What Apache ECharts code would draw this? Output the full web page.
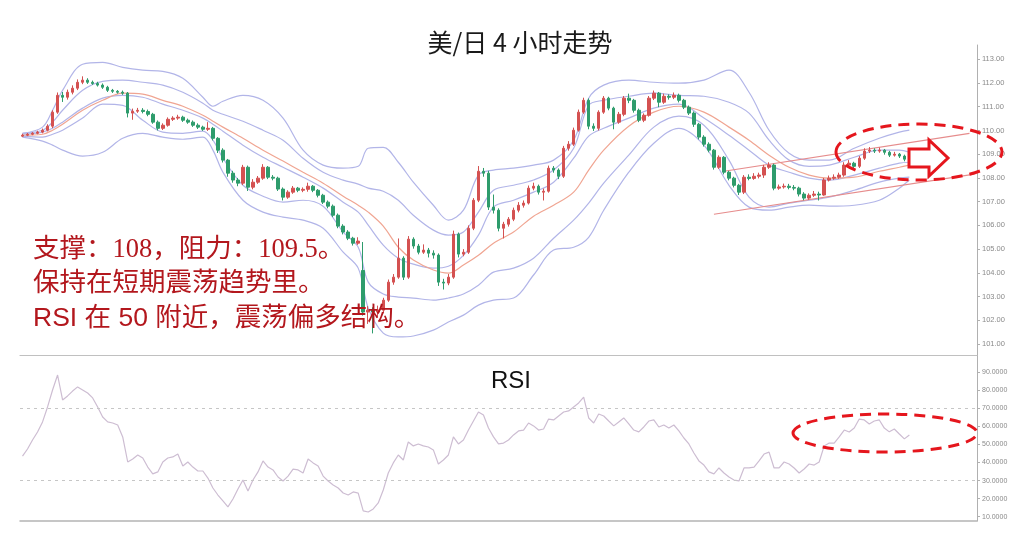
<!DOCTYPE html>
<html>
<head>
<meta charset="utf-8">
<script src="https://cdn.jsdelivr.net/npm/echarts@6/dist/echarts.min.js"></script>
<style>
html,body{margin:0;padding:0;background:#fff;}
#chart{width:1024px;height:535px;}
</style>
</head>
<body>
<div id="chart"></div>
<script>
// ---- data (USD/JPY 4H) ----
const slotCount = 191; // time slots on the x axis (last ones empty)

const opens = [
109.76,109.80,109.84,109.88,109.93,110.01,110.18,110.77,111.48,111.40,
111.61,111.78,112.03,112.12,112.03,111.98,111.91,111.82,111.69,111.65,
111.61,111.57,110.73,110.81,110.85,110.80,110.68,110.35,110.09,110.22,
110.47,110.52,110.56,110.43,110.35,110.22,110.14,110.05,110.09,109.67,
109.17,108.75,108.20,107.91,107.78,108.45,107.61,107.82,107.99,108.45,
108.03,107.99,107.53,107.19,107.40,107.57,107.48,107.52,107.65,107.48,
107.27,106.98,106.81,106.43,105.97,105.72,105.46,105.25,104.10,102.35,
102.43,102.35,102.43,102.85,103.61,103.82,104.62,103.82,105.42,105.13,
104.87,104.96,104.83,104.75,103.61,103.57,103.82,105.63,104.79,104.87,
105.88,107.06,108.28,108.20,106.77,106.64,105.88,106.05,106.26,106.64,
106.85,106.94,107.57,107.65,107.40,107.44,108.41,108.33,108.07,109.25,
109.42,110.01,110.77,111.27,110.18,110.09,110.77,111.36,110.94,110.35,
110.68,111.36,111.27,110.85,110.43,110.64,111.36,111.57,111.19,111.44,
111.40,111.48,111.27,110.98,110.73,110.26,109.72,109.42,109.17,108.45,
108.87,108.24,107.99,107.69,107.40,108.03,107.98,108.07,108.12,108.45,
108.54,107.57,107.62,107.65,107.60,107.57,107.32,107.15,107.27,107.32,
107.28,107.91,107.99,108.03,108.12,108.54,108.62,108.49,108.83,109.13,
109.17,109.13,109.17,109.08,108.96,109.00,108.92,108.79
];
const closes = [
109.80,109.84,109.88,109.93,110.01,110.18,110.77,111.48,111.40,111.61,
111.78,112.03,112.12,112.03,111.98,111.91,111.82,111.69,111.65,111.61,
111.57,110.73,110.81,110.85,110.80,110.68,110.35,110.09,110.22,110.47,
110.52,110.56,110.43,110.35,110.22,110.14,110.05,110.09,109.67,109.17,
108.75,108.20,107.91,107.78,108.45,107.61,107.82,107.99,108.45,108.03,
107.99,107.53,107.19,107.40,107.57,107.48,107.52,107.65,107.48,107.27,
106.98,106.81,106.43,105.97,105.72,105.46,105.25,105.34,102.35,102.43,
102.35,102.43,102.85,103.61,103.82,104.62,103.82,105.42,105.13,104.87,
104.96,104.83,104.75,103.61,103.57,103.82,105.63,104.79,104.87,105.88,
107.06,108.28,108.20,106.77,106.64,105.88,106.05,106.26,106.64,106.85,
106.94,107.57,107.65,107.40,107.44,108.41,108.33,108.07,109.25,109.42,
110.01,110.77,111.27,110.18,110.09,110.77,111.36,110.94,110.35,110.68,
111.36,111.27,110.85,110.43,110.64,111.36,111.57,111.19,111.44,111.40,
111.48,111.27,110.98,110.73,110.26,109.72,109.42,109.17,108.45,108.87,
108.24,107.99,107.69,107.40,108.03,107.98,108.07,108.12,108.45,108.54,
107.57,107.62,107.65,107.60,107.57,107.32,107.15,107.27,107.32,107.28,
107.91,107.99,108.03,108.12,108.54,108.62,108.49,108.83,109.13,109.17,
109.13,109.17,109.08,108.96,109.00,108.92,108.79,108.83
];
const highs = [
109.86,109.89,109.93,109.99,110.08,110.26,110.85,111.60,111.62,111.72,
111.90,112.15,112.28,112.20,112.10,112.05,111.98,111.88,111.75,111.70,
111.68,111.62,110.92,110.95,110.94,110.88,110.74,110.42,110.30,110.55,
110.60,110.66,110.62,110.50,110.42,110.30,110.20,110.35,110.15,109.72,
109.25,108.80,108.30,108.00,108.55,108.52,107.95,108.08,108.58,108.50,
108.12,108.05,107.60,107.48,107.66,107.62,107.60,107.80,107.70,107.53,
107.33,107.05,106.88,106.50,106.05,105.80,105.52,105.50,105.30,102.60,
102.55,102.62,102.95,103.72,103.95,105.45,104.70,105.55,105.50,105.22,
105.20,105.05,104.95,104.82,103.75,103.95,105.78,105.70,105.00,106.00,
107.15,108.50,108.42,108.30,107.30,106.72,106.15,106.35,106.75,106.98,
107.05,107.68,107.80,107.72,107.55,108.52,108.50,108.40,109.35,109.55,
110.12,110.88,111.38,111.35,110.30,110.85,111.45,111.42,111.00,110.78,
111.45,111.55,111.33,110.92,110.72,111.45,111.68,111.62,111.55,111.52,
111.60,111.55,111.33,111.05,110.80,110.32,109.80,109.50,109.22,108.95,
108.92,108.30,108.05,107.75,108.12,108.15,108.20,108.22,108.55,108.66,
108.60,107.72,107.76,107.75,107.70,107.63,107.40,107.35,107.45,107.42,
108.00,108.10,108.15,108.22,108.66,108.75,108.68,108.92,109.25,109.30,
109.25,109.28,109.22,109.14,109.10,109.05,108.98,108.92
];
const lows = [
109.72,109.76,109.80,109.84,109.88,109.96,110.10,110.70,111.20,111.30,
111.52,111.70,111.95,111.96,111.92,111.85,111.75,111.62,111.58,111.55,
111.50,110.55,110.45,110.74,110.72,110.60,110.28,110.00,110.02,110.16,
110.40,110.45,110.36,110.28,110.15,110.06,109.98,109.98,109.58,109.05,
108.65,108.05,107.80,107.65,107.70,107.45,107.52,107.75,107.92,107.95,
107.90,107.45,107.05,107.12,107.33,107.40,107.40,107.42,107.40,107.18,
106.90,106.72,106.35,105.88,105.62,105.38,105.15,105.18,102.20,101.85,
101.45,102.10,102.30,102.78,103.50,103.75,103.70,103.75,105.02,104.78,
104.80,104.65,104.60,103.45,103.30,103.48,103.75,104.65,104.70,104.80,
105.80,106.98,108.05,106.65,106.50,105.75,105.45,105.95,106.18,106.55,
106.75,106.88,107.48,107.30,107.05,107.38,108.22,107.95,108.00,109.15,
109.35,109.95,110.70,110.05,109.98,110.00,110.70,110.85,110.05,110.28,
110.60,111.15,110.75,110.35,110.35,110.58,111.28,110.98,111.12,111.30,
111.32,111.18,110.90,110.65,110.15,109.62,109.32,109.08,108.35,108.38,
108.15,107.90,107.60,107.28,107.32,107.90,107.92,107.98,108.00,108.38,
107.48,107.50,107.55,107.52,107.48,107.22,107.06,107.08,107.20,107.05,
107.25,107.85,107.92,107.96,108.05,108.48,108.40,108.42,108.76,109.05,
109.05,109.06,108.98,108.88,108.90,108.84,108.70,108.72
];

// indicator lines, read at these slots
const bandIdx = [0,4,6,8,12,16,20,24,28,32,36,38,40,44,48,52,56,60,64,67,69,72,75,78,82,85,88,91,94,98,102,106,110,113,116,121,126,131,136,141,145,149,153,157,161,166,171,175,177];
const upperOuter = [109.88,110.14,110.85,111.69,112.79,112.87,112.66,112.54,112.49,112.20,111.40,111.02,111.23,111.48,111.27,110.52,109.17,108.54,108.41,108.49,109.25,109.29,108.66,107.82,106.85,106.22,106.64,108.12,108.33,108.41,108.54,108.75,109.59,111.36,111.91,112.12,112.03,111.99,112.12,112.54,111.61,110.01,109.04,108.75,108.75,109.25,109.67,109.93,110.01];
const upperInner = [109.88,110.01,110.35,110.85,111.69,112.07,112.12,112.03,111.91,111.61,111.15,110.85,110.68,110.39,110.01,109.59,108.83,108.24,107.91,107.74,107.57,107.44,107.06,106.43,105.80,105.59,105.72,106.56,107.48,107.69,107.91,108.33,109.25,111.06,111.27,111.44,111.57,111.48,111.44,111.19,110.73,109.59,108.75,108.49,108.54,108.87,109.17,109.17,109.08];
const middleBlue = [109.84,109.93,110.09,110.35,110.94,111.36,111.48,111.40,111.11,110.85,110.52,110.26,109.97,109.38,108.87,108.45,108.03,107.57,106.98,106.56,106.01,105.17,104.62,104.37,104.20,104.28,104.74,105.59,106.77,107.06,107.40,107.82,108.83,109.76,110.09,110.52,110.94,111.11,110.52,109.80,109.17,108.54,108.24,107.99,107.91,108.12,108.41,108.62,108.66];
const maOrange = [109.80,109.84,110.01,110.26,110.85,111.27,111.57,111.53,111.27,111.02,110.64,110.39,110.14,109.67,109.17,108.71,108.24,107.78,107.23,106.85,106.56,105.97,105.08,104.54,104.12,103.99,104.33,104.74,105.25,105.72,106.39,106.85,107.40,108.33,109.17,110.18,110.77,111.02,110.77,110.14,109.59,108.96,108.45,108.12,107.99,108.03,108.28,108.45,108.54];
const lowerInner = [109.76,109.72,109.84,110.01,110.52,111.11,111.06,110.43,109.93,109.88,109.97,109.59,108.83,107.69,107.23,106.98,107.06,106.81,105.72,105.08,103.61,103.11,102.98,102.94,102.85,102.94,103.11,103.48,104.03,104.20,104.62,105.46,106.22,106.94,107.78,108.96,110.14,110.60,110.22,108.75,107.19,106.77,106.94,107.06,107.19,107.48,107.82,107.99,108.03];
const lowerOuter = [109.72,109.55,109.38,109.17,108.92,109.08,109.67,109.88,109.72,109.63,109.72,109.17,108.24,107.06,106.56,106.35,106.22,105.88,104.87,104.20,102.52,101.46,101.30,101.34,101.59,101.93,102.22,102.64,102.85,102.94,103.91,104.96,105.08,105.50,106.64,108.24,109.46,110.09,109.38,107.69,106.77,106.64,106.77,106.85,106.81,106.85,107.06,107.57,107.91];

const rsi = [
43.6,47.5,52.5,56.9,62.5,70.8,80.2,88.5,74.7,76.9,
79.6,81.9,80.2,78.5,75.8,70.8,65.2,62.5,61.9,60.8,
54.2,40.3,42.0,44.2,42.5,37.5,33.7,34.8,40.3,42.5,
43.1,44.7,38.1,40.3,37.5,35.3,35.3,31.4,25.9,22.0,
18.7,15.4,19.8,25.3,30.3,24.2,30.3,34.8,40.9,37.5,
35.9,32.0,29.8,32.5,36.4,35.9,34.2,42.0,39.8,38.1,
32.5,29.8,27.6,25.9,23.1,22.0,23.7,23.1,13.2,12.6,
14.3,17.6,24.8,34.2,39.8,44.2,41.4,51.4,49.2,50.3,
49.2,48.6,47.0,39.2,41.4,44.2,54.2,50.3,52.5,58.0,
63.0,68.0,66.3,59.1,54.2,50.3,50.8,52.5,55.3,57.5,
58.0,61.9,60.3,58.0,58.6,64.1,63.6,65.8,68.0,68.6,
70.8,73.0,76.3,64.7,61.9,66.9,65.8,63.0,60.3,62.5,
64.7,61.4,58.0,57.0,59.7,63.0,63.6,59.7,60.8,59.1,
60.8,57.5,53.6,50.3,45.3,40.9,38.6,34.8,33.7,37.0,
34.2,32.0,30.3,29.8,37.0,37.0,37.5,40.9,44.7,45.8,
37.0,37.0,40.3,39.2,37.0,34.2,36.4,39.2,38.6,40.3,
49.2,50.8,50.8,54.2,58.0,56.9,59.1,64.1,63.6,61.4,
63.0,63.6,59.1,57.0,58.6,55.8,53.1,55.3
];

// trend channel drawn on the price panel: [slot, price]
const channelUpper = [[140, 108.28], [189, 109.88]];
const channelLower = [[138, 106.47], [190, 108.16]];

const priceTicks = [101,102,103,104,105,106,107,108,109,110,111,112,113];
const rsiTicks = [10,20,30,40,50,60,70,80,90];
const rsiLevels = [70, 30];

const titleText = '美/日 4 小时走势';
const noteLines = ['支撑：108，阻力：109.5。', '保持在短期震荡趋势里。', 'RSI 在 50 附近，震荡偏多结构。'];

// ---- chart ----
const categories = [];
for (let i = 0; i < slotCount; i++) categories.push(String(i));
const candleData = opens.map((o, i) => [o, closes[i], lows[i], highs[i]]);
const toPts = vals => bandIdx.map((ix, k) => [ix, vals[k]]);

const bandColor = '#b2b5e8';
function bandSeries(name, vals, color) {
  return {
    name, type: 'line', xAxisIndex: 0, yAxisIndex: 0,
    data: toPts(vals), smooth: 0.35, showSymbol: false, symbol: 'none',
    lineStyle: { color, width: 1.2 }, silent: true, z: 2
  };
}

const chart = echarts.init(document.getElementById('chart'), null, { renderer: 'canvas' });
const labelFont = "'Liberation Sans', Arial, sans-serif";
const noteColor = '#b3171d';

chart.setOption({
  animation: false,
  backgroundColor: '#ffffff',
  grid: [
    { left: 20, right: 47, top: 45, height: 310 },
    { left: 20, right: 47, top: 355, height: 166 }
  ],
  xAxis: [
    { type: 'category', gridIndex: 0, data: categories, boundaryGap: true,
      axisLine: { show: false },
      axisTick: { show: false }, axisLabel: { show: false }, splitLine: { show: false } },
    { type: 'category', gridIndex: 1, data: categories, boundaryGap: true, position: 'bottom',
      axisLine: { show: true, lineStyle: { color: '#b4b4b4', width: 1.5 } },
      axisTick: { show: false }, axisLabel: { show: false }, splitLine: { show: false } },
    { type: 'category', gridIndex: 1, data: categories, boundaryGap: true, position: 'top',
      axisLine: { show: true, lineStyle: { color: '#c0c0c0', width: 1.2 } },
      axisTick: { show: false }, axisLabel: { show: false }, splitLine: { show: false } }
  ],
  yAxis: [
    { type: 'value', gridIndex: 0, position: 'right', min: 100.54, max: 113.6,
      axisLine: { show: true, lineStyle: { color: '#b0b0b0', width: 1 } },
      axisTick: { show: true, length: 3, customValues: priceTicks, lineStyle: { color: '#b0b0b0' } },
      axisLabel: { show: true, customValues: priceTicks, margin: 5, fontSize: 7.5, color: '#8a8a8a',
        fontFamily: labelFont, formatter: v => v.toFixed(2) },
      splitLine: { show: false } },
    { type: 'value', gridIndex: 1, position: 'right', min: 7.61, max: 99.58,
      axisLine: { show: true, lineStyle: { color: '#b0b0b0', width: 1 } },
      axisTick: { show: true, length: 3, customValues: rsiTicks, lineStyle: { color: '#b0b0b0' } },
      axisLabel: { show: true, customValues: rsiTicks, margin: 5, fontSize: 7, color: '#8a8a8a',
        fontFamily: labelFont, formatter: v => v.toFixed(4) },
      splitLine: { show: false } }
  ],
  series: [
    bandSeries('upperOuter', upperOuter, bandColor),
    bandSeries('upperInner', upperInner, bandColor),
    bandSeries('middleBlue', middleBlue, bandColor),
    bandSeries('maOrange', maOrange, '#f0a592'),
    bandSeries('lowerInner', lowerInner, bandColor),
    bandSeries('lowerOuter', lowerOuter, bandColor),
    {
      name: 'USDJPY', type: 'candlestick', xAxisIndex: 0, yAxisIndex: 0,
      data: candleData, barWidth: 3, z: 5,
      itemStyle: { color: '#d45151', color0: '#2e9c6c', borderColor: '#d45151', borderColor0: '#2e9c6c', borderWidth: 1 },
      markLine: {
        silent: true, symbol: ['none', 'none'], label: { show: false },
        lineStyle: { color: '#e68c8c', width: 1.2, type: 'solid' },
        data: [
          [{ coord: channelUpper[0] }, { coord: channelUpper[1] }],
          [{ coord: channelLower[0] }, { coord: channelLower[1] }]
        ]
      }
    },
    {
      name: 'RSI', type: 'line', xAxisIndex: 1, yAxisIndex: 1,
      data: rsi, showSymbol: false, symbol: 'none',
      lineStyle: { color: '#cdbdd2', width: 1.2 },
      markLine: {
        silent: true, symbol: ['none', 'none'], label: { show: false },
        lineStyle: { color: '#c6c6c6', width: 1.2, type: [3, 4] },
        data: rsiLevels.map(v => ({ yAxis: v }))
      }
    }
  ],
  graphic: [
    { type: 'text', x: 520, y: 42, z: 100,
      style: { text: titleText, fill: '#1a1a1a', fontSize: 25, fontFamily: "'Noto Sans CJK SC', sans-serif",
        align: 'center', verticalAlign: 'middle' } },
    { type: 'text', x: 511, y: 381, z: 100,
      style: { text: 'RSI', fill: '#111', fontSize: 24, fontFamily: "'Liberation Sans', Arial, sans-serif",
        align: 'center', verticalAlign: 'middle' } },
    { type: 'text', x: 33, y: 250, z: 100,
      style: { text: noteLines[0], fill: noteColor, fontSize: 26.5, fontFamily: "'Liberation Serif', 'Noto Sans CJK SC', serif",
        align: 'left', verticalAlign: 'middle' } },
    { type: 'text', x: 33, y: 284, z: 100,
      style: { text: noteLines[1], fill: noteColor, fontSize: 26.5, fontFamily: "'Liberation Serif', 'Noto Sans CJK SC', serif",
        align: 'left', verticalAlign: 'middle' } },
    { type: 'text', x: 33, y: 319, z: 100,
      style: { text: noteLines[2], fill: noteColor, fontSize: 26.5, fontFamily: "'Liberation Sans', 'Noto Sans CJK SC', sans-serif",
        align: 'left', verticalAlign: 'middle' } },
    { type: 'ellipse', z: 100, shape: { cx: 919, cy: 152, rx: 83, ry: 28 },
      style: { fill: 'none', stroke: '#e5161d', lineWidth: 3, lineDash: [11, 7] } },
    { type: 'ellipse', z: 100, shape: { cx: 885, cy: 433, rx: 92, ry: 19 },
      style: { fill: 'none', stroke: '#e5161d', lineWidth: 3, lineDash: [11, 7] } },
    { type: 'polygon', z: 101,
      shape: { points: [[909,149],[929,149],[929,140],[948,158],[929,176],[929,167],[909,167]] },
      style: { fill: '#ffffff', stroke: '#e5161d', lineWidth: 3 } }
  ]
});
</script>
</body>
</html>
